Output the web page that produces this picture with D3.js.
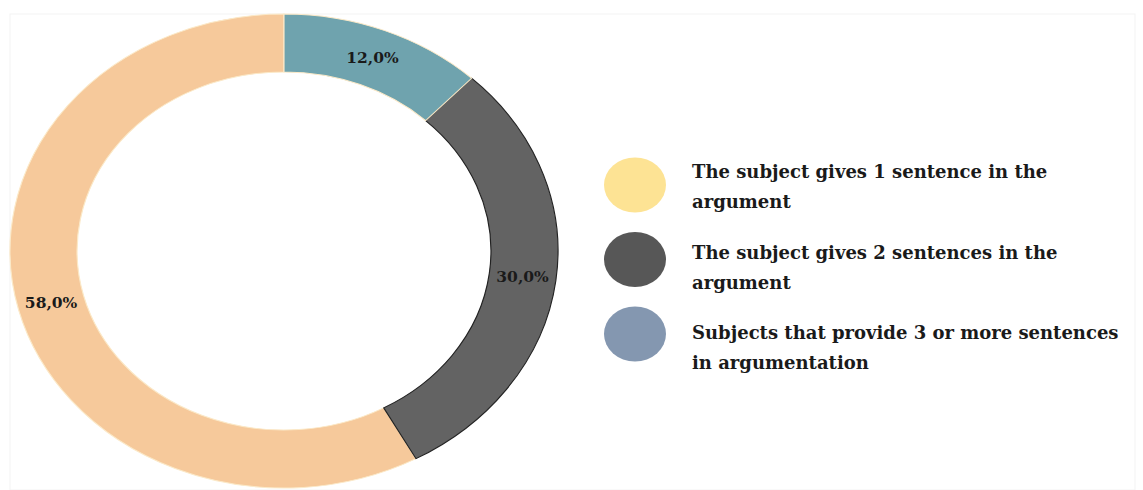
<!DOCTYPE html>
<html>
<head>
<meta charset="utf-8">
<script src="https://cdn.jsdelivr.net/npm/d3@7"></script>
<style>
  body { margin: 0; background: #fff; }
  text { font-family: "DejaVu Serif", serif; fill: #1a1a1a; }
</style>
</head>
<body>
<div id="chart"></div>
<script>
"use strict";

const categories = [
    "The subject gives 1 sentence in the argument",
    "The subject gives 2 sentences in the argument",
    "Subjects that provide 3 or more sentences in argumentation"
];
const values = [58.0, 30.0, 12.0];
const sliceColors = ["#f6c99b", "#636363", "#6fa3ae"];
const legendColors = ["#fde394", "#575757", "#8497b0"];
const legendLines = [
    ["The subject gives 1 sentence in the", "argument"],
    ["The subject gives 2 sentences in the", "argument"],
    ["Subjects that provide 3 or more sentences", "in argumentation"]
];

const drawChart = () => {
    var width = 1143,
        height = 490;

    var svg = d3.select("#chart")
        .append("svg")
        .attr("width", width)
        .attr("height", height);

    // faint frame of the plot area
    svg.append("rect")
        .attr("x", 10).attr("y", 14)
        .attr("width", 1125).attr("height", 476)
        .attr("fill", "none")
        .attr("stroke", "#f3f3f3");

    var outerR = 237,
        innerR = 179,
        sx = 274 / 237;

    // ring drawn counter-clockwise from 12 o'clock
    var pie = d3.pie()
        .sort(null)
        .startAngle(2 * Math.PI)
        .endAngle(0)
        .value(d => d);

    var arc = d3.arc()
        .innerRadius(innerR)
        .outerRadius(outerR);

    var arcs = pie(values);

    var g = svg.append("g")
        .attr("transform", "translate(284, 251) scale(" + sx + ", 1)");

    g.selectAll("path")
        .data(arcs)
        .enter()
        .append("path")
        .attr("d", arc)
        .attr("fill", (d, i) => sliceColors[i])
        .attr("stroke", (d, i) => i === 1 ? "#222" : "#fbe9c8")
        .attr("stroke-width", 1);

    var labels = svg.append("g")
        .attr("transform", "translate(284, 251)");

    labels.selectAll("text")
        .data(arcs)
        .enter()
        .append("text")
        .attr("x", d => arc.centroid(d)[0] * sx)
        .attr("y", d => arc.centroid(d)[1])
        .attr("dy", "0.35em")
        .attr("text-anchor", "middle")
        .attr("font-size", 15.5)
        .attr("font-weight", "bold")
        .text(d => d.value.toFixed(1).replace(".", ",") + "%");

    // legend
    var legend = svg.append("g");
    var markY = d3.scaleLinear().domain([0, 2]).range([185, 334]);
    var textY = d3.scaleLinear().domain([0, 2]).range([178, 339]);

    legend.selectAll("ellipse")
        .data(categories)
        .enter()
        .append("ellipse")
        .attr("cx", 635)
        .attr("cy", (d, i) => markY(i))
        .attr("rx", 31)
        .attr("ry", 27.5)
        .attr("fill", (d, i) => legendColors[i]);

    legend.selectAll("text")
        .data(categories)
        .enter()
        .append("text")
        .attr("x", 692)
        .attr("y", (d, i) => textY(i))
        .attr("font-size", 18)
        .attr("font-weight", 600)
        .selectAll("tspan")
        .data((d, i) => legendLines[i])
        .enter()
        .append("tspan")
        .attr("x", 692)
        .attr("dy", (d, j) => j === 0 ? 0 : 30)
        .text(d => d);
}

drawChart();
</script>
</body>
</html>
